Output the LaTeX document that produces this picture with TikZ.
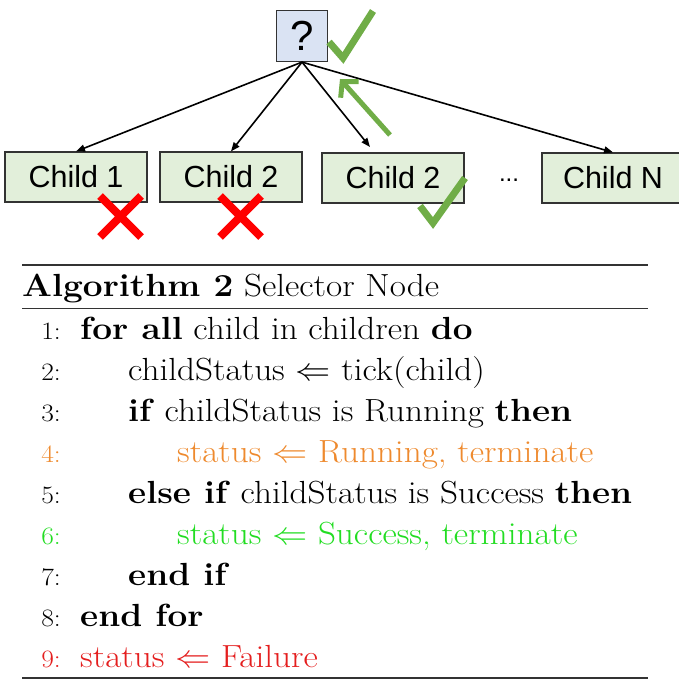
\RequirePackage{fix-cm}
\documentclass[tikz,border=0pt]{standalone}
\usepackage{fontspec}
\newfontfamily\arialf{Liberation Sans}
\usetikzlibrary{arrows.meta}
\definecolor{qfill}{HTML}{DAE3F3}
\definecolor{cfill}{HTML}{E2EFDA}
\definecolor{okgreen}{HTML}{70AD47}
\definecolor{algorange}{HTML}{EE8A2E}
\definecolor{alggreen}{HTML}{22DD22}
\definecolor{algred}{HTML}{E41E1E}
\definecolor{rulegray}{HTML}{333333}
\newcommand\stretchx[1]{\scalebox{1.1}[1]{#1}}
\begin{document}
\begin{tikzpicture}[x=1pt,y=-1pt,
  qbox/.style={draw=rulegray,fill=qfill,line width=1.2pt,minimum width=51pt,minimum height=51pt,inner sep=0pt,font=\arialf\fontsize{42}{42}\selectfont},
  childbox/.style={draw=rulegray,fill=cfill,line width=1.2pt,minimum width=142pt,minimum height=50pt,inner sep=0pt,font=\arialf\fontsize{30.5}{30.5}\selectfont},
  arr/.style={line width=1.6pt,-{Triangle[length=9pt,width=7pt]}},
  backarr/.style={okgreen,line width=5pt,-{Straight Barb[length=11pt,width=24pt,line width=5pt]}},
  checkmark/.style={okgreen,line width=7pt},
  crossmark/.style={red,line width=8pt},
  algtext/.style={anchor=base west,inner sep=0pt,font=\fontsize{32}{38}\selectfont},
  algnum/.style={anchor=base east,inner sep=0pt,font=\fontsize{25}{30}\selectfont},
  toprule/.style={rulegray,line width=1.8pt},
  midrule/.style={rulegray,line width=1pt}
]
\useasboundingbox (0,0) rectangle (678,684);
% tree
\node[qbox] (root) at (302,36) {?};
\node[childbox] (c1) at (76,177) {Child 1};
\node[childbox] (c2) at (231,177) {Child 2};
\node[childbox] (c3) at (393,178) {Child 2};
\node[childbox] (cN) at (613,178) {Child N};
\node[font=\arialf\fontsize{24}{24}\selectfont,inner sep=0pt] (dots) at (509,180) {...};
\coordinate (c3t) at (370,147);
\draw[arr] (root.south) -- (c1.north);
\draw[arr] (root.south) -- (c2.north);
\draw[arr] (root.south) -- (c3t);
\draw[arr] (root.south) -- (cN.north);
\coordinate (ba) at (390,135);
\coordinate (bb) at (340,79);
\draw[backarr] (ba) -- (bb);
% marks
\draw[checkmark] (329,42) -- (343,58) -- (373,11);
\draw[checkmark] (420,206) -- (433,223) -- (465,178);
\draw[crossmark] (100,196) -- (141,237) (141,196) -- (100,237);
\draw[crossmark] (220,196) -- (261,237) (261,196) -- (220,237);
% algorithm
\draw[toprule] (22,265) -- (648,265);
\node[algtext] (title) at (22,296) {\stretchx{\textbf{Algorithm 2} Selector Node}};
\draw[midrule] (22,308) -- (648,308);
\node[algnum] (n1) at (61,339) {\stretchx{1:}};
\node[algtext] (l1) at (80,339) {\stretchx{\textbf{for all} child in children \textbf{do}}};
\node[algnum] (n2) at (61,380) {\stretchx{2:}};
\node[algtext] (l2) at (128,380) {\stretchx{childStatus $\Leftarrow$ tick(child)}};
\node[algnum] (n3) at (61,421) {\stretchx{3:}};
\node[algtext] (l3) at (128,421) {\stretchx{\textbf{if} childStatus is Running \textbf{then}}};
\node[algnum,text=algorange] (n4) at (61,462) {\stretchx{4:}};
\node[algtext,text=algorange] (l4) at (177,462) {\stretchx{status $\Leftarrow$ Running, terminate}};
\node[algnum] (n5) at (61,503) {\stretchx{5:}};
\node[algtext] (l5) at (128,503) {\stretchx{\textbf{else if} childStatus is Success \textbf{then}}};
\node[algnum,text=alggreen] (n6) at (61,544) {\stretchx{6:}};
\node[algtext,text=alggreen] (l6) at (177,544) {\stretchx{status $\Leftarrow$ Success, terminate}};
\node[algnum] (n7) at (61,585) {\stretchx{7:}};
\node[algtext] (l7) at (128,585) {\stretchx{\textbf{end if}}};
\node[algnum] (n8) at (61,626) {\stretchx{8:}};
\node[algtext] (l8) at (80,626) {\stretchx{\textbf{end for}}};
\node[algnum,text=algred] (n9) at (61,667) {\stretchx{9:}};
\node[algtext,text=algred] (l9) at (80,667) {\stretchx{status $\Leftarrow$ Failure}};
\draw[toprule] (22,678) -- (648,678);
\end{tikzpicture}
\end{document}
